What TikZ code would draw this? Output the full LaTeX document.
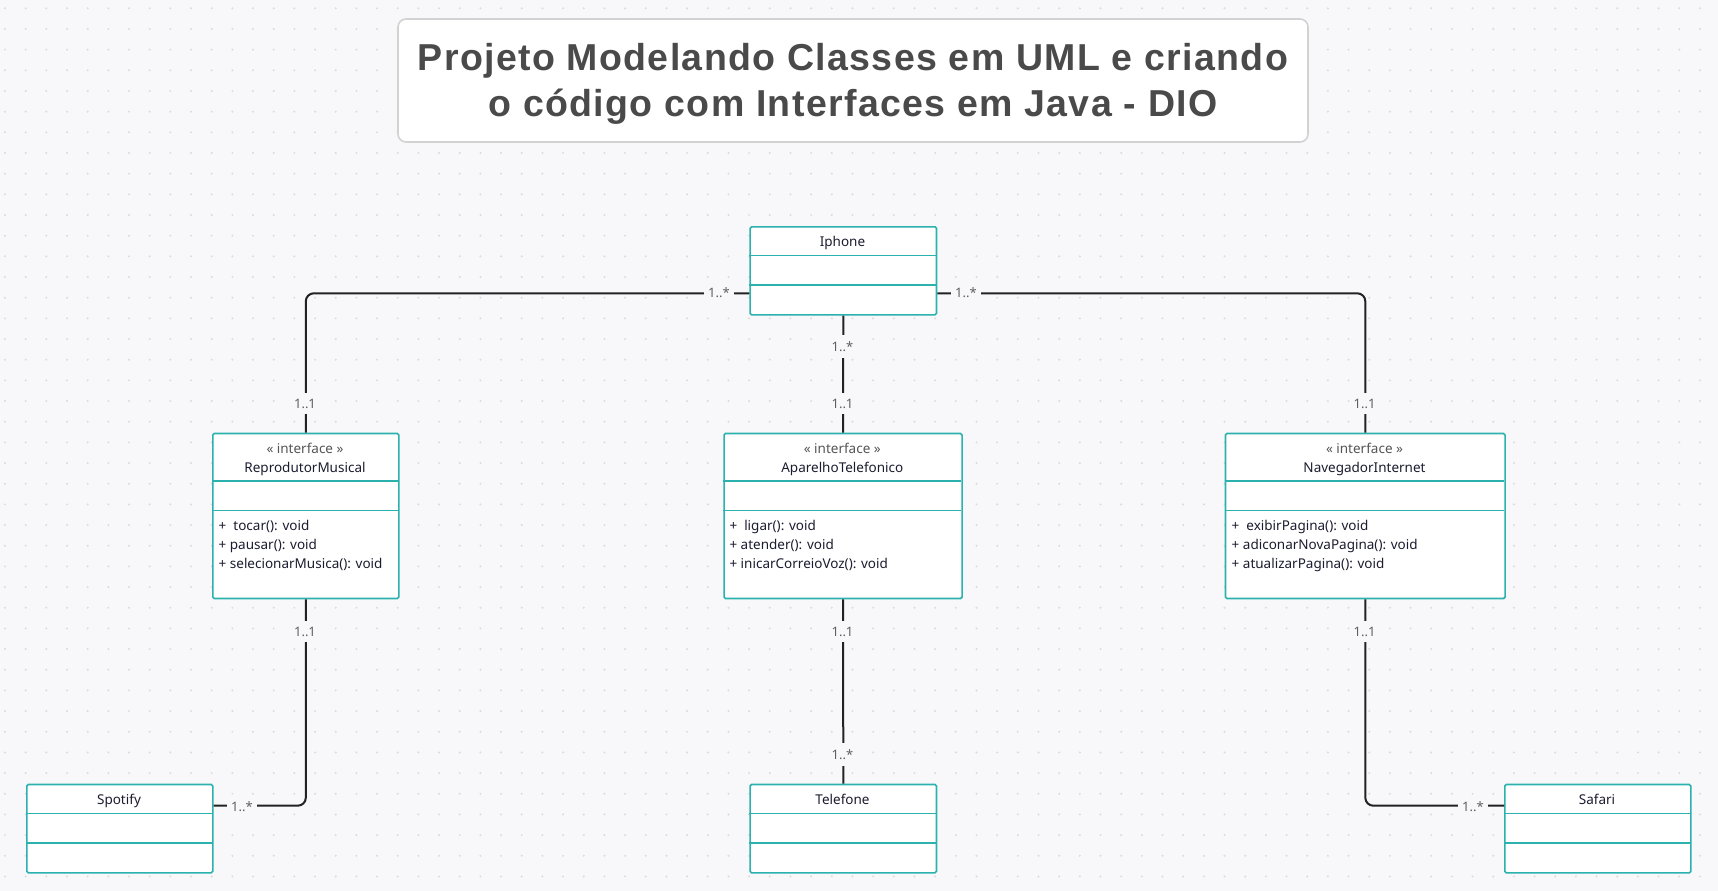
\documentclass[tikz,border=0pt]{standalone}
\usepackage{fontspec}
\setmainfont{Noto Sans}
\newfontfamily\titlefont[LetterSpace=3.6]{Liberation Sans}
\usetikzlibrary{calc}
\definecolor{bgcol}{RGB}{248,248,250}
\definecolor{dotcol}{RGB}{218,219,224}
\definecolor{tealcol}{RGB}{43,178,174}
\definecolor{linecol}{RGB}{34,34,34}
\definecolor{multcol}{RGB}{95,95,95}
\definecolor{stereocol}{RGB}{85,85,85}
\definecolor{namecol}{RGB}{28,28,48}
\definecolor{titlecol}{RGB}{74,74,74}
\definecolor{titleborder}{RGB}{210,210,210}
\begin{document}
\begin{tikzpicture}[x=1pt,y=-1pt,
  classbox/.style={draw=tealcol, line width=1.6pt, fill=white, rounded corners=1.5pt, inner sep=0pt, anchor=north west},
  divider/.style={draw=tealcol, line width=1.6pt},
  cname/.style={font=\fontsize{13.5}{16}\selectfont, text=namecol, inner sep=0pt, anchor=base},
  stereo/.style={font=\fontsize{13.5}{16}\selectfont, text=stereocol, inner sep=0pt, anchor=base},
  meth/.style={font=\fontsize{13.5}{16}\selectfont, text=namecol, inner sep=0pt, anchor=base west},
  conn/.style={draw=linecol, line width=2pt, rounded corners=8pt},
  mult/.style={font=\fontsize{13}{15}\selectfont, text=multcol, fill=bgcol, inner xsep=4pt, inner ysep=6pt, yshift=-1pt},
  titletext/.style={font=\titlefont\bfseries\fontsize{37.5}{46}\selectfont, text=titlecol, inner sep=0pt, anchor=base}
]
\useasboundingbox (0,0) rectangle (1718,891);
\fill[bgcol] (0,0) rectangle (1718,891);
\foreach \j in {0,...,42} {
  \fill[dotcol] \foreach \i in {0,...,83} { ({5+20.67*\i},{8.3+20.67*\j}) circle (1.1) };
}

% title
\node[draw=titleborder, line width=1.6pt, fill=white, rounded corners=8pt, minimum width=910pt, minimum height=123pt, inner sep=0pt] (titlebox) at (853,80.5) {};
\node[titletext] (title1) at (853,70.7) {Projeto Modelando Classes em UML e criando};
\node[titletext] (title2) at (853,116.5) {o código com Interfaces em Java - DIO};

% Iphone
\node[classbox, minimum width=186.4pt, minimum height=88pt] (iphone) at (749.3,226) {};
\draw[divider] (749.3,255.5) -- (935.7,255.5);
\draw[divider] (749.3,285) -- (935.7,285);
\node[cname] (iphoneN) at (842.5,246.5) {Iphone};

% ReprodutorMusical
\node[classbox, minimum width=186pt, minimum height=165pt] (repro) at (212,432.7) {};
\draw[divider] (212,481) -- (398,481);
\draw[divider] (212,510.3) -- (398,510.3);
\node[stereo] (reproS) at (305,453.3) {« interface »};
\node[cname] (reproN) at (305,472.3) {ReprodutorMusical};
\node[meth] (reproM1) at (218.5,530.7) {+~ tocar(): void};
\node[meth] (reproM2) at (218.5,549.7) {+ pausar(): void};
\node[meth] (reproM3) at (218.5,568.7) {+ selecionarMusica(): void};

% AparelhoTelefonico
\node[classbox, minimum width=238pt, minimum height=165pt] (apar) at (723.3,432.7) {};
\draw[divider] (723.3,481) -- (961.3,481);
\draw[divider] (723.3,510.3) -- (961.3,510.3);
\node[stereo] (aparS) at (842.3,453.3) {« interface »};
\node[cname] (aparN) at (842.3,472.3) {AparelhoTelefonico};
\node[meth] (aparM1) at (729.3,530.7) {+~ ligar(): void};
\node[meth] (aparM2) at (729.3,549.7) {+ atender(): void};
\node[meth] (aparM3) at (729.3,568.7) {+ inicarCorreioVoz(): void};

% NavegadorInternet
\node[classbox, minimum width=279.6pt, minimum height=165pt] (naveg) at (1224.7,432.7) {};
\draw[divider] (1224.7,481) -- (1504.3,481);
\draw[divider] (1224.7,510.3) -- (1504.3,510.3);
\node[stereo] (navegS) at (1364.5,453.3) {« interface »};
\node[cname] (navegN) at (1364.5,472.3) {NavegadorInternet};
\node[meth] (navegM1) at (1231.5,530.7) {+~ exibirPagina(): void};
\node[meth] (navegM2) at (1231.5,549.7) {+ adiconarNovaPagina(): void};
\node[meth] (navegM3) at (1231.5,568.7) {+ atualizarPagina(): void};

% Spotify
\node[classbox, minimum width=186pt, minimum height=88.3pt] (spotify) at (26,783.7) {};
\draw[divider] (26,813.3) -- (212,813.3);
\draw[divider] (26,842.7) -- (212,842.7);
\node[cname] (spotifyN) at (119,804.3) {Spotify};

% Telefone
\node[classbox, minimum width=186.4pt, minimum height=88.3pt] (telef) at (749.3,783.7) {};
\draw[divider] (749.3,813.3) -- (935.7,813.3);
\draw[divider] (749.3,842.7) -- (935.7,842.7);
\node[cname] (telefN) at (842.5,804.3) {Telefone};

% Safari
\node[classbox, minimum width=186pt, minimum height=88.3pt] (safari) at (1504,783.7) {};
\draw[divider] (1504,813.3) -- (1690,813.3);
\draw[divider] (1504,842.7) -- (1690,842.7);
\node[cname] (safariN) at (1597,804.3) {Safari};

% connectors
\draw[conn] ([yshift=22.3pt]iphone.south west) -| (repro.north);
\draw[conn] ([yshift=22.3pt]iphone.south east) -| (naveg.north);
\draw[conn] (iphone.south) -- (apar.north);
\draw[conn] (repro.south) |- ([yshift=-22pt]spotify.north east);
\draw[conn] (apar.south) -- (telef.north);
\draw[conn] (naveg.south) |- ([yshift=-22pt]safari.north west);

% multiplicities
\node[mult] (m1) at (719,291.7) {1..*};
\node[mult] (m2) at (305,402.7) {1..1};
\node[mult] (m3) at (966,291.7) {1..*};
\node[mult] (m4) at (1364.5,402.7) {1..1};
\node[mult] (m5) at (842.5,345.5) {1..*};
\node[mult] (m6) at (842.5,402.7) {1..1};
\node[mult] (m7) at (305,630.7) {1..1};
\node[mult] (m8) at (242,806) {1..*};
\node[mult] (m9) at (842.5,630.7) {1..1};
\node[mult] (m10) at (842.5,753.5) {1..*};
\node[mult] (m11) at (1364.5,630.7) {1..1};
\node[mult] (m12) at (1473,806) {1..*};
\end{tikzpicture}
\end{document}
